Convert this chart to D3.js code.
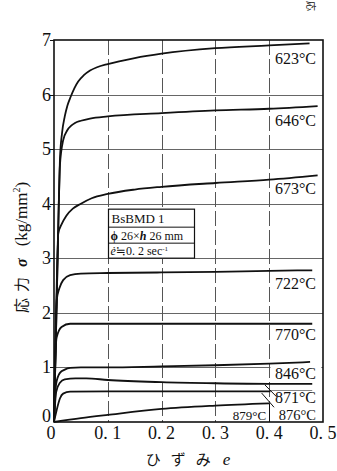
<!DOCTYPE html>
<html>
<head>
<meta charset="utf-8">
<script src="https://cdn.jsdelivr.net/npm/d3@7"></script>
<style>
  body { margin: 0; background: #fff; }
  text { font-family: "Liberation Serif", "DejaVu Serif", serif; fill: #111; }
  .cjk { font-family: "Noto Sans CJK JP", "Noto Sans CJK SC", serif; }
</style>
</head>
<body>
<div id="chart"></div>
<script>
// temperatures, one curve each: [strain e, stress kg/mm2]
var temps = ["623°C", "646°C", "673°C", "722°C", "770°C", "846°C", "871°C", "876°C", "879°C"];

var c623 = [[0,0],[0.005,2.2],[0.008,3.6],[0.011,4.8],[0.015,5.3],[0.02,5.6],[0.025,5.8],[0.031,5.96],[0.038,6.12],[0.045,6.24],[0.055,6.35],[0.067,6.44],[0.08,6.5],[0.1,6.56],[0.15,6.67],[0.2,6.75],[0.3,6.85],[0.4,6.9],[0.475,6.94]];
var c646 = [[0,0],[0.005,2.2],[0.008,3.6],[0.011,4.7],[0.017,5.16],[0.025,5.35],[0.032,5.43],[0.039,5.48],[0.05,5.52],[0.067,5.56],[0.1,5.6],[0.2,5.66],[0.3,5.71],[0.4,5.74],[0.49,5.79]];
var c673 = [[0,0],[0.004,2.0],[0.008,3.46],[0.014,3.62],[0.023,3.78],[0.035,3.91],[0.05,4.0],[0.07,4.1],[0.1,4.18],[0.15,4.26],[0.2,4.31],[0.3,4.38],[0.4,4.44],[0.49,4.52]];
var c722 = [[0,0],[0.005,2.23],[0.01,2.45],[0.017,2.6],[0.03,2.69],[0.05,2.72],[0.1,2.73],[0.2,2.74],[0.3,2.75],[0.4,2.77],[0.48,2.78]];
var c770 = [[0,0],[0.003,1.3],[0.005,1.55],[0.014,1.74],[0.03,1.8],[0.1,1.8],[0.2,1.8],[0.3,1.8],[0.4,1.8],[0.48,1.8]];
var c846 = [[0,0],[0.004,0.7],[0.011,0.9],[0.02,0.96],[0.03,0.99],[0.05,1.0],[0.1,1.0],[0.2,1.02],[0.3,1.04],[0.4,1.07],[0.476,1.1]];
var c871 = [[0,0],[0.004,0.55],[0.011,0.72],[0.02,0.78],[0.04,0.8],[0.06,0.8],[0.1,0.77],[0.2,0.73],[0.3,0.71],[0.4,0.7],[0.48,0.7]];
var c876 = [[0,0],[0.005,0.22],[0.011,0.43],[0.017,0.52],[0.03,0.555],[0.1,0.56],[0.2,0.56],[0.3,0.56],[0.4,0.56],[0.48,0.56]];
var c879 = [[0,0],[0.05,0.07],[0.1,0.13],[0.2,0.24],[0.3,0.3],[0.4,0.34]];
var curves = [c623, c646, c673, c722, c770, c846, c871, c876, c879];

// where each temperature label sits (stress value of its baseline)
var labelAt = [6.54, 5.41, 4.16, 2.42, 1.48, 0.77, 0.33, 0.02, 0.02];

var yTicks = [0, 1, 2, 3, 4, 5, 6, 7];
var xTicks = [0, 0.1, 0.2, 0.3, 0.4, 0.5];
var xTickText = ["0", "0. 1", "0. 2", "0. 3", "0. 4", "0. 5"];
var legendRows = ["BsBMD 1", "26×", "0. 2 sec"];

var W = 337, H = 471;
var margin = { top: 40, right: 14, bottom: 49, left: 54 }
    , width = W - margin.left - margin.right
    , height = H - margin.top - margin.bottom;

var svg = d3.select("#chart").append("svg")
    .attr("width", W)
    .attr("height", H);

var x = d3.scaleLinear().domain([0, 0.5]).range([margin.left, margin.left + width]);
var y = d3.scaleLinear().domain([0, 7]).range([margin.top + height, margin.top]);
var px = function (v) { return Math.round(v) + 0.5; }; // crisp 1px lines

// horizontal grid
svg.append("g").selectAll("line")
    .data(yTicks.slice(1, -1))
    .enter().append("line")
    .attr("x1", x(0)).attr("x2", x(0.5))
    .attr("y1", function (d) { return px(y(d)); })
    .attr("y2", function (d) { return px(y(d)); })
    .attr("stroke", "#666").attr("stroke-width", 1);

// vertical grid, dashed
svg.append("g").selectAll("line")
    .data(xTicks.slice(1, -1))
    .enter().append("line")
    .attr("x1", function (d) { return px(x(d)); })
    .attr("x2", function (d) { return px(x(d)); })
    .attr("y1", y(7)).attr("y2", y(0))
    .attr("stroke", "#555").attr("stroke-width", 1)
    .attr("stroke-dasharray", "15,4");

// curves
var line = d3.line()
    .x(function (d) { return x(d[0]); })
    .y(function (d) { return y(d[1]); })
    .curve(d3.curveMonotoneX);

svg.append("g").selectAll("path")
    .data(curves)
    .enter().append("path")
    .attr("d", line)
    .attr("fill", "none")
    .attr("stroke", "#111")
    .attr("stroke-width", 1.8);

// temperature labels with white backing
var lab = svg.append("g");
temps.forEach(function (t, i) {
    var small = i >= 7;
    var fs = i == 8 ? 13 : (i == 7 ? 14.5 : 16);
    var right = i == 8 ? x(0.4) - 3 : x(0.5) - 7;
    var ty = y(labelAt[i]) - 1;
    if (!small) {
        lab.append("rect")
            .attr("x", px(x(0.4)) + 1).attr("y", ty - 12)
            .attr("width", x(0.5) - x(0.4) - 3).attr("height", 14)
            .attr("fill", "#fff");
    }
    lab.append("text")
        .attr("x", right).attr("y", ty)
        .attr("text-anchor", "end")
        .attr("font-size", fs)
        .text(t);
});

// leader lines for 871 / 876, and the divider under 879
svg.append("line")
    .attr("x1", x(0.392)).attr("y1", y(0.68)).attr("x2", x(0.414)).attr("y2", y(0.46))
    .attr("stroke", "#111").attr("stroke-width", 1);
svg.append("line")
    .attr("x1", x(0.386)).attr("y1", y(0.53)).attr("x2", x(0.409)).attr("y2", y(0.27))
    .attr("stroke", "#111").attr("stroke-width", 1);
svg.append("line")
    .attr("x1", px(x(0.4))).attr("y1", y(0.34)).attr("x2", px(x(0.4))).attr("y2", y(0))
    .attr("stroke", "#111").attr("stroke-width", 1);

// legend box
var lx = px(x(0.1)), ly = y(3.9), lw = 86, rh = [18, 16, 15];
var lg = svg.append("g");
lg.append("rect")
    .attr("x", lx).attr("y", ly).attr("width", lw).attr("height", d3.sum(rh))
    .attr("fill", "#fff").attr("stroke", "#111").attr("stroke-width", 1.2);
lg.append("line").attr("x1", lx).attr("x2", lx + lw)
    .attr("y1", ly + rh[0]).attr("y2", ly + rh[0]).attr("stroke", "#111");
lg.append("line").attr("x1", lx).attr("x2", lx + lw)
    .attr("y1", ly + rh[0] + rh[1]).attr("y2", ly + rh[0] + rh[1]).attr("stroke", "#111");
lg.append("text").attr("x", lx + 3).attr("y", ly + 14).attr("font-size", 13)
    .text(legendRows[0]);
var r2 = lg.append("text").attr("x", lx + 2).attr("y", ly + rh[0] + 12.5).attr("font-size", 12);
r2.append("tspan").attr("font-weight", "bold").text("ϕ");
r2.append("tspan").text(" " + legendRows[1]);
r2.append("tspan").attr("font-style", "italic").attr("font-weight", "bold").text("h");
r2.append("tspan").text(" 26 mm");
var r3 = lg.append("text").attr("x", lx + 2).attr("y", ly + rh[0] + rh[1] + 12).attr("font-size", 12);
r3.append("tspan").attr("font-style", "italic").text("ė");
r3.append("tspan").text("≒" + legendRows[2]);
r3.append("tspan").attr("font-size", 7).attr("dy", -4).text("-1");

// frame
svg.append("rect")
    .attr("x", x(0)).attr("y", y(7))
    .attr("width", x(0.5) - x(0)).attr("height", y(0) - y(7))
    .attr("fill", "none").attr("stroke", "#111").attr("stroke-width", 1.6);

// y ticks and labels
svg.append("g").selectAll("line")
    .data(yTicks.slice(1))
    .enter().append("line")
    .attr("x1", x(0) - 4).attr("x2", x(0))
    .attr("y1", function (d) { return px(y(d)); })
    .attr("y2", function (d) { return px(y(d)); })
    .attr("stroke", "#111");
svg.append("g").selectAll("text")
    .data(yTicks)
    .enter().append("text")
    .attr("x", x(0) - 3)
    .attr("y", function (d) { return d == 0 ? y(d) : y(d) + 6; })
    .attr("text-anchor", "end")
    .attr("font-size", 18)
    .text(function (d) { return d; });

// x tick labels
svg.append("g").selectAll("text")
    .data(xTicks)
    .enter().append("text")
    .attr("x", function (d, i) { return i == 0 ? x(d) - 3 : x(d); })
    .attr("y", y(0) + 17)
    .attr("text-anchor", "middle")
    .attr("font-size", 18)
    .attr("xml:space", "preserve")
    .text(function (d, i) { return xTickText[i]; });

// axis titles
var yt = svg.append("text")
    .attr("transform", "translate(27,313) rotate(-90)")
    .attr("font-size", 16);
yt.append("tspan").attr("class", "cjk").attr("font-size", 15).text("応");
yt.append("tspan").attr("class", "cjk").attr("font-size", 15).attr("dx", 6).text("力");
yt.append("tspan").attr("font-weight", "bold").attr("font-style", "italic").attr("dx", 10).text("σ");
yt.append("tspan").attr("dx", 12).attr("font-size", 17).text("(kg/mm");
yt.append("tspan").attr("font-size", 10).attr("dy", -7).text("2");
yt.append("tspan").attr("font-size", 17).attr("dy", 7).text(")");

var xt = svg.append("text")
    .attr("x", 188).attr("y", 465)
    .attr("text-anchor", "middle")
    .attr("font-size", 15);
xt.append("tspan").attr("class", "cjk").attr("letter-spacing", 10).text("ひずみ");
xt.append("tspan").attr("font-style", "italic").attr("font-size", 17).attr("dx", 2).text("e");

// bit of the neighbouring page's text at the top edge
svg.append("text")
    .attr("class", "cjk")
    .attr("transform", "translate(307,1) rotate(90)")
    .attr("font-size", 10)
    .attr("fill", "#333")
    .text("応");
</script>
</body>
</html>
